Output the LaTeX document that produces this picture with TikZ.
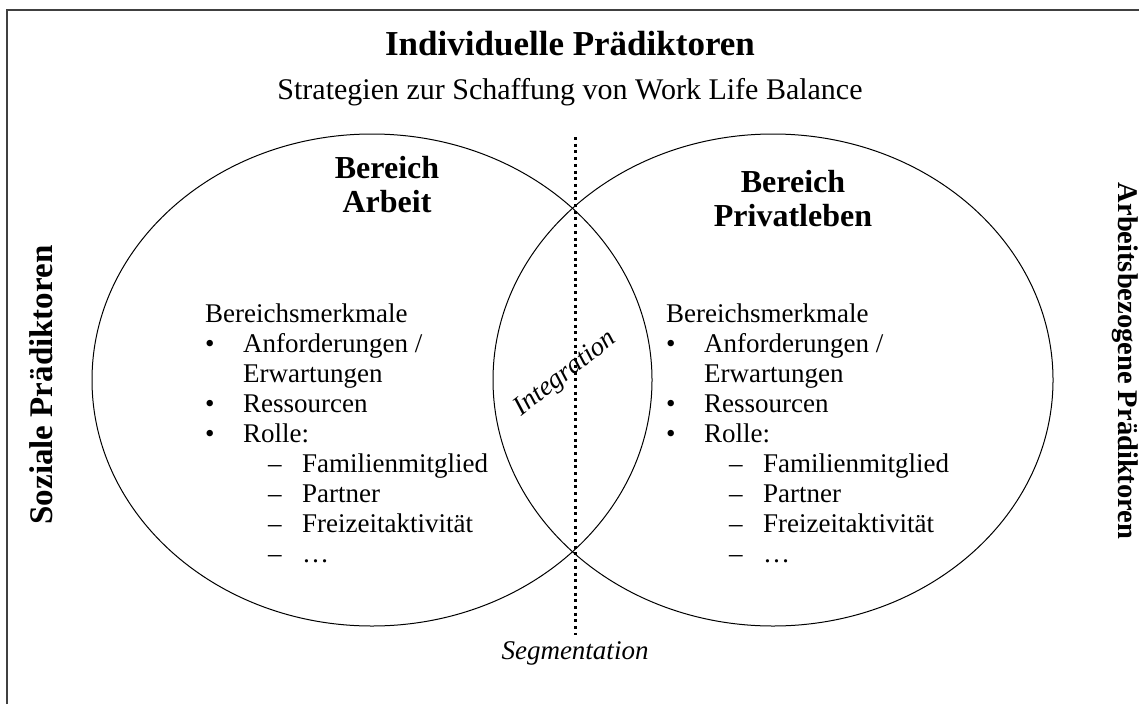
\documentclass[tikz,border=0pt]{standalone}
\usepackage{fontspec}
\setmainfont{Liberation Serif}
\usepackage{tikz}
\usetikzlibrary{positioning,shapes.geometric}

% Merkmale eines Bereichs, fuer beide Kreise gleich
\newcommand{\merkmale}{%
\begin{tabular}[t]{@{}p{38pt}@{}p{25pt}@{}p{34pt}@{}l@{}}
\multicolumn{4}{@{}l@{}}{Bereichsmerkmale}\\
\textbullet & \multicolumn{3}{@{}l@{}}{Anforderungen /}\\
 & \multicolumn{3}{@{}l@{}}{Erwartungen}\\
\textbullet & \multicolumn{3}{@{}l@{}}{Ressourcen}\\
\textbullet & \multicolumn{3}{@{}l@{}}{Rolle:}\\
 & & \textendash & Familienmitglied\\
 & & \textendash & Partner\\
 & & \textendash & Freizeitaktivität\\
 & & \textendash & \dots
\end{tabular}}

\begin{document}
\begin{tikzpicture}[x=1pt,y=-1pt,
  fliess/.style={font=\fontsize{27}{30}\selectfont, inner sep=0pt},
  kopf/.style={font=\fontsize{32}{34}\selectfont\bfseries, align=center, inner sep=0pt},
  bereich/.style={draw, ellipse, line width=1pt, minimum width=560pt, minimum height=492pt, inner sep=0pt},
  trenner/.style={line width=3pt, dash pattern=on 3pt off 3.7pt}]
\useasboundingbox (0,0) rectangle (1139,704);

% Rahmen (nur oben und links)
\draw[black!75, line width=1.5pt] (7,704) -- (7,10) -- (1139,10);

\node[font=\fontsize{35}{37}\selectfont\bfseries, inner sep=0pt, anchor=base] (T) at (570,55) {Individuelle Prädiktoren};
\node[font=\fontsize{30}{32}\selectfont, inner sep=0pt, anchor=base] (S) at (570,99) {Strategien zur Schaffung von Work Life Balance};

% die beiden Bereiche
\node[bereich] (EA) at (372,380) {};
\node[bereich] (EP) at (773,380) {};

% base liegt auf der letzten Zeile
\node[kopf, anchor=base] (HA) at (387,212) {Bereich\\Arbeit};
\node[kopf, anchor=base] (HP) at (793,226) {Bereich\\Privatleben};

\node[fliess, anchor=base west] (LA) at (205,322) {\merkmale};
\node[fliess, anchor=base west] (LP) at (666,322) {\merkmale};

% Trennlinie
\coordinate (oben) at (575,137);
\coordinate (unten) at (575,635);
\draw[trenner] (oben) -- (unten);

\node[fliess, font=\fontsize{27}{30}\selectfont\itshape, anchor=base] (Seg) at (575,659) {Segmentation};
\node[fliess, font=\fontsize{27}{30}\selectfont\itshape, rotate=38] (I) at (566,374) {Integration};

\node[font=\fontsize{33}{35}\selectfont\bfseries, inner sep=0pt, rotate=90] (SP) at (41,385) {Soziale Prädiktoren};
\node[font=\fontsize{28.5}{30}\selectfont\bfseries, inner sep=0pt, rotate=-90] (AP) at (1125,361) {Arbeitsbezogene Prädiktoren};
\end{tikzpicture}
\end{document}
